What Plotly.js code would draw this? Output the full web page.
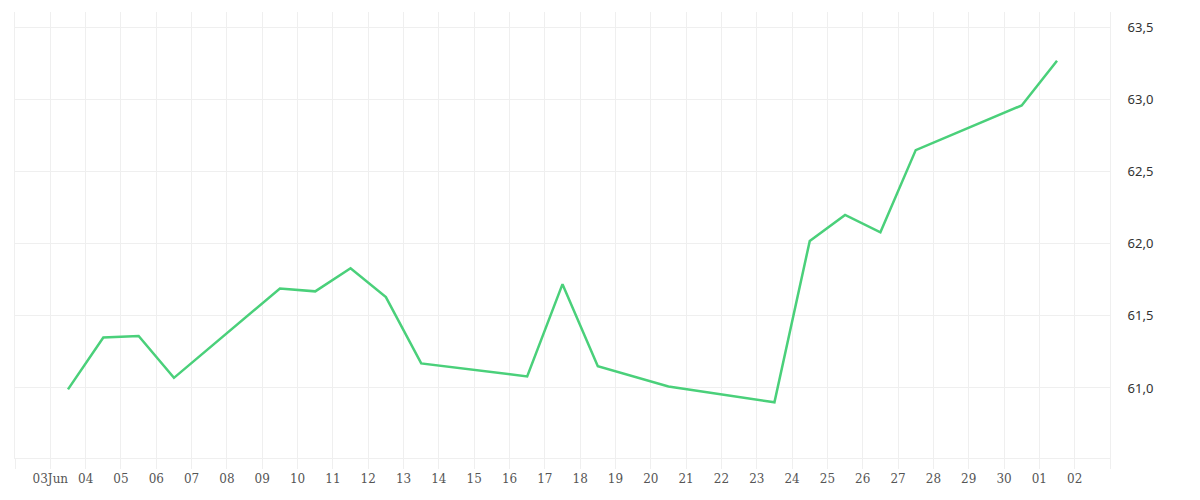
<!DOCTYPE html>
<html>
<head>
<meta charset="utf-8">
<script src="https://cdn.plot.ly/plotly-3.0.1.min.js"></script>
<style>html,body{margin:0;padding:0;background:#fff;}#chart{width:1200px;height:500px;}</style>
</head>
<body>
<div id="chart"></div>
<script>
const dates = [
  '2024-06-03 12:00','2024-06-04 12:00','2024-06-05 12:00','2024-06-06 12:00',
  '2024-06-09 12:00','2024-06-10 12:00','2024-06-11 12:00','2024-06-12 12:00',
  '2024-06-13 12:00','2024-06-16 12:00','2024-06-17 12:00','2024-06-18 12:00',
  '2024-06-20 12:00','2024-06-23 12:00','2024-06-24 12:00','2024-06-25 12:00',
  '2024-06-26 12:00','2024-06-27 12:00','2024-06-30 12:00','2024-07-01 12:00'
];
const values = [
  60.99, 61.35, 61.36, 61.07,
  61.69, 61.67, 61.83, 61.63,
  61.17, 61.08, 61.72, 61.15,
  61.01, 60.90, 62.02, 62.20,
  62.08, 62.65, 62.96, 63.27
];
const tickDates = [
  '2024-06-02','2024-06-03','2024-06-04','2024-06-05','2024-06-06','2024-06-07',
  '2024-06-08','2024-06-09','2024-06-10','2024-06-11','2024-06-12','2024-06-13',
  '2024-06-14','2024-06-15','2024-06-16','2024-06-17','2024-06-18','2024-06-19',
  '2024-06-20','2024-06-21','2024-06-22','2024-06-23','2024-06-24','2024-06-25',
  '2024-06-26','2024-06-27','2024-06-28','2024-06-29','2024-06-30','2024-07-01',
  '2024-07-02','2024-07-03'
];
const tickLabels = [
  '','03Jun','04','05','06','07',
  '08','09','10','11','12','13',
  '14','15','16','17','18','19',
  '20','21','22','23','24','25',
  '26','27','28','29','30','01',
  '02',''
];
const yTickVals = [61.0, 61.5, 62.0, 62.5, 63.0, 63.5];

const grid = '#efefef';
const trace = {
  x: dates, y: values, type: 'scatter', mode: 'lines',
  line: {color: '#4ad07a', width: 2.5},
  hoverinfo: 'skip'
};
const layout = {
  width: 1200, height: 500,
  margin: {l: 15, r: 90, t: 12, b: 42},
  paper_bgcolor: '#ffffff', plot_bgcolor: '#ffffff',
  showlegend: false,
  separators: ',.',
  xaxis: {
    type: 'date',
    range: ['2024-06-02', '2024-07-03'],
    tickmode: 'array', tickvals: tickDates, ticktext: tickLabels,
    showgrid: true, gridcolor: grid, gridwidth: 1,
    ticks: 'outside', ticklen: 10, tickcolor: grid, tickwidth: 1,
    showline: true, linecolor: grid, linewidth: 1,
    zeroline: false,
    tickfont: {family: "'DejaVu Serif', 'Liberation Serif', serif", size: 12, color: '#555'}
  },
  yaxis: {
    side: 'right',
    range: [60.514, 63.608],
    tickmode: 'array', tickvals: yTickVals, tickformat: '.1f',
    showgrid: true, gridcolor: grid, gridwidth: 1,
    ticks: '', ticklabelstandoff: 14,
    showline: true, mirror: true, linecolor: grid, linewidth: 1,
    zeroline: false,
    tickfont: {family: "'Noto Sans', sans-serif", size: 13, color: '#333'}
  }
};
Plotly.newPlot('chart', [trace], layout, {staticPlot: true, displayModeBar: false});
</script>
</body>
</html>
